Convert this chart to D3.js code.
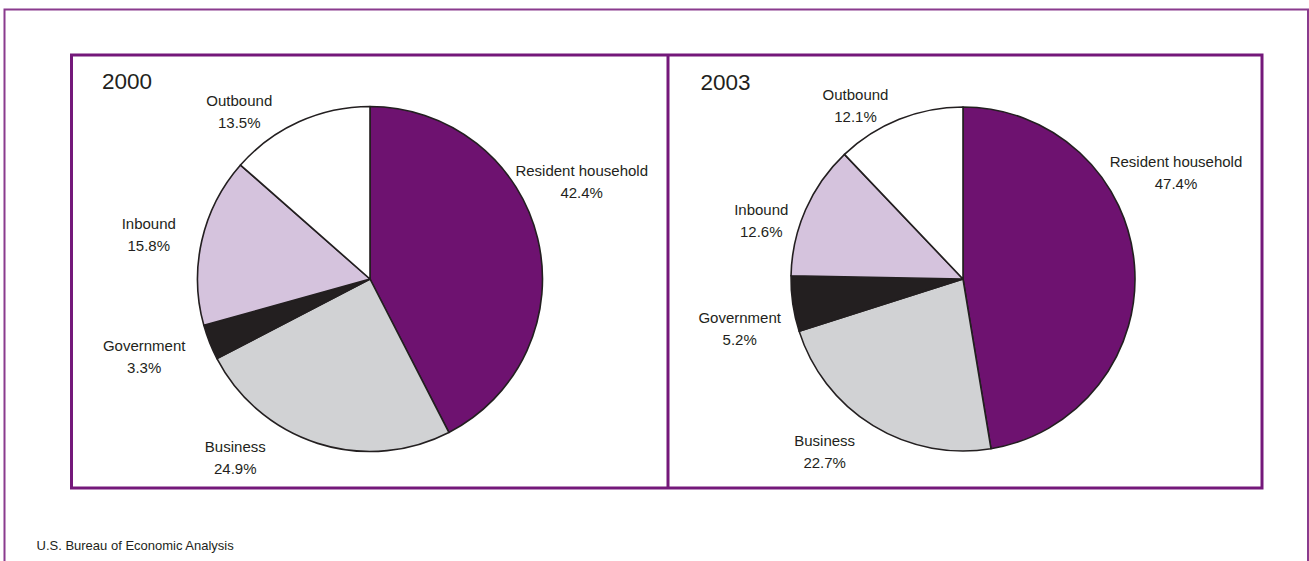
<!DOCTYPE html>
<html>
<head>
<meta charset="utf-8">
<script src="https://cdn.jsdelivr.net/npm/d3@7"></script>
<style>
  html, body { margin: 0; padding: 0; background: #ffffff; }
  svg { display: block; }
  text { font-family: "Liberation Sans", Arial, Helvetica, sans-serif; fill: #231f20; }
</style>
</head>
<body>
<svg id="chart" width="1309" height="561"></svg>
<script>
// Shares of travel and tourism spending by type of purchaser (percent)
const categories = ["Resident household", "Business", "Government", "Inbound", "Outbound"];
const years = ["2000", "2003"];
const shares2000 = [42.4, 24.9, 3.3, 15.8, 13.5];
const shares2003 = [47.4, 22.7, 5.2, 12.6, 12.1];
const sourceNote = "U.S. Bureau of Economic Analysis";

// Slice fills, in category order
const sliceColors = ["#6e1270", "#d1d2d4", "#231f20", "#d5c3dd", "#ffffff"];

// Label anchors (centre x, first baseline y) for each panel, in category order
const labelAnchors = [
  [[581.7, 176], [235.3, 452.3], [144.2, 350.7], [148.8, 229.3], [239.3, 106]],
  [[1176, 166.7], [824.7, 446], [739.7, 322.7], [761.3, 215], [855.5, 100]]
];

const svg = d3.select("#chart");

// Outer frame
svg.append("rect")
  .attr("x", 4.5).attr("y", 9.5)
  .attr("width", 1303.5).attr("height", 620)
  .attr("fill", "none")
  .attr("stroke", "#8a3b8e")
  .attr("stroke-width", 2);

// Panel box and divider
const box = { left: 71.5, top: 55, right: 1262, bottom: 488, divider: 668 };
svg.append("rect")
  .attr("x", box.left).attr("y", box.top)
  .attr("width", box.right - box.left).attr("height", box.bottom - box.top)
  .attr("fill", "none")
  .attr("stroke", "#74187a")
  .attr("stroke-width", 3);
svg.append("line")
  .attr("x1", box.divider).attr("x2", box.divider)
  .attr("y1", box.top).attr("y2", box.bottom)
  .attr("stroke", "#74187a")
  .attr("stroke-width", 3);

const panels = [
  { year: years[0], values: shares2000, cx: 370, cy: 279, r: 172.5, yearX: 102, yearY: 89 },
  { year: years[1], values: shares2003, cx: 963, cy: 279, r: 172, yearX: 700.5, yearY: 90 }
];

const pie = d3.pie().sort(null).value(d => d.value);

panels.forEach((p, pi) => {
  const data = categories.map((c, i) => ({ name: c, value: p.values[i], color: sliceColors[i] }));
  const arcs = pie(data);
  const arc = d3.arc().innerRadius(0).outerRadius(p.r);

  const g = svg.append("g").attr("transform", `translate(${p.cx},${p.cy})`);
  g.selectAll("path")
    .data(arcs)
    .join("path")
    .attr("d", arc)
    .attr("fill", d => d.data.color)
    .attr("stroke", "#231f20")
    .attr("stroke-width", 1.6)
    .attr("stroke-linejoin", "round");

  // Year heading
  svg.append("text")
    .attr("x", p.yearX).attr("y", p.yearY)
    .attr("font-size", 22.5)
    .text(p.year);

  // Category labels with percentages
  const labels = svg.append("g");
  arcs.forEach((a, i) => {
    const [lx, ly] = labelAnchors[pi][i];
    const t = labels.append("text")
      .attr("text-anchor", "middle")
      .attr("font-size", 15);
    t.append("tspan").attr("x", lx).attr("y", ly).text(a.data.name);
    t.append("tspan").attr("x", lx).attr("y", ly + 22).text(d3.format(".1f")(a.data.value) + "%");
  });
});

// Source line
svg.append("text")
  .attr("x", 36.5).attr("y", 549.5)
  .attr("font-size", 13)
  .text(sourceNote);
</script>
</body>
</html>
